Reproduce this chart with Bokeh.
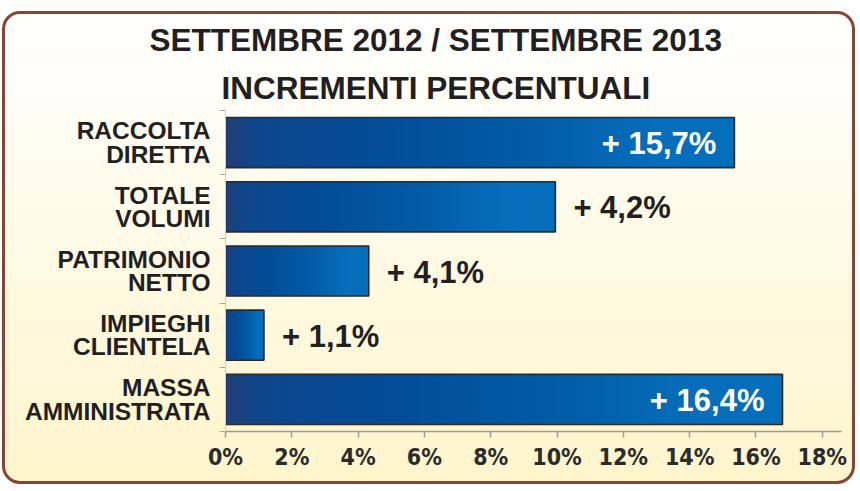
import numpy as np
from bokeh.plotting import figure
from bokeh.models import Range1d, FixedTicker, PrintfTickFormatter, Title, ColumnDataSource
from bokeh.core.properties import value
from bokeh.embed import file_html
from bokeh.resources import INLINE

# ---- data ----
categories = ["RACCOLTA\nDIRETTA", "TOTALE\nVOLUMI", "PATRIMONIO\nNETTO",
              "IMPIEGHI\nCLIENTELA", "MASSA\nAMMINISTRATA"]
bar_lengths = [15.35, 9.95, 4.32, 1.16, 16.8]
value_labels = ["+ 15,7%", "+ 4,2%", "+ 4,1%", "+ 1,1%", "+ 16,4%"]
x_ticks = [0, 2, 4, 6, 8, 10, 12, 14, 16, 18]
title_lines = ["SETTEMBRE 2012 / SETTEMBRE 2013", "INCREMENTI PERCENTUALI"]

# ---- styling ----
BOLD = "Liberation Sans"
NARROW = "'Liberation Sans Narrow', 'DejaVu Sans Condensed', 'Liberation Sans'"
DARK = "#231f20"
BAR_H = 0.78

grad_pos = [0.0, 0.06, 0.3, 0.6, 0.85, 1.0]
grad_rgb = np.array([[34, 62, 118], [14, 70, 140], [2, 76, 152],
                     [2, 92, 166], [6, 110, 188], [4, 110, 186]])

M = 240
t = np.linspace(0, 1, M)
strip = np.zeros((1, M, 4), dtype=np.uint8)
for c in range(3):
    strip[0, :, c] = np.round(np.interp(t, grad_pos, grad_rgb[:, c])).astype(np.uint8)
strip[0, :, 3] = 255
strip_img = strip.view(dtype=np.uint32).reshape((1, M))

p = figure(width=853, height=473,
           x_range=Range1d(0, 18.58), y_range=Range1d(5, 0),
           output_backend="svg", toolbar_location=None,
           min_border_left=220, min_border_right=17,
           min_border_top=95, min_border_bottom=56)
p.styles = {"margin-left": "2px", "margin-top": "11px",
            "border": "3px solid #8b4333", "border-radius": "18px",
            "background": "linear-gradient(to bottom, #ffffff 0%, #fffdf3 25%, #fff9e0 60%, #fff5cc 100%)"}
p.background_fill_alpha = 0
p.border_fill_alpha = 0
p.outline_line_color = None
p.grid.visible = False

# titles (bottom line added first so the first line is outermost)
for txt, off, lh in [(title_lines[1], -4, 1.29), (title_lines[0], -76, 1.2)]:
    p.add_layout(Title(text=txt, align="left", offset=off,
                       text_font=BOLD, text_font_style="bold", text_font_size="31.5px",
                       text_line_height=lh, text_color=DARK), "above")
p.title.visible = False

ys = [i + 0.5 for i in range(len(categories))]

# gradient-filled bars
p.image_rgba(image=[strip_img] * len(bar_lengths), x=[0] * len(bar_lengths),
             y=[y - BAR_H / 2 for y in ys], dw=bar_lengths, dh=[BAR_H] * len(bar_lengths))
p.hbar(y=ys, left=0, right=bar_lengths, height=BAR_H,
       fill_color=None, line_color="#2b2b2b", line_width=1.6)

# value labels
inside = [v > 12 for v in bar_lengths]
src = ColumnDataSource(dict(
    x=bar_lengths, y=ys, text=value_labels,
    off=[-18 if f else 18 for f in inside],
    align=["right" if f else "left" for f in inside],
    color=["#ffffff" if f else DARK for f in inside],
))
p.text(x="x", y="y", text="text", x_offset="off", y_offset=1, text_align="align",
       text_baseline="middle", text_color="color", source=src,
       text_font=value(BOLD), text_font_style="bold", text_font_size="31px")

# axes
xa = p.xaxis[0]
xa.ticker = FixedTicker(ticks=x_ticks)
xa.formatter = PrintfTickFormatter(format="%d%%")
xa.axis_line_color = "#9a9a9a"
xa.axis_line_width = 1.5
xa.major_tick_line_color = "#9a9a9a"
xa.major_tick_line_width = 1.5
xa.major_tick_out = 6
xa.major_tick_in = 0
xa.minor_tick_out = 0
xa.major_label_standoff = 6
xa.major_label_text_font = NARROW
xa.major_label_text_font_style = "bold"
xa.major_label_text_font_size = "23px"
xa.major_label_text_color = "#2b2b2b"

ya = p.yaxis[0]
ya.ticker = FixedTicker(ticks=ys, minor_ticks=list(range(len(categories) + 1)))
ya.major_label_overrides = {y: c for y, c in zip(ys, categories)}
ya.axis_line_color = "#cfcfcf"
ya.axis_line_width = 1
ya.major_tick_out = 0
ya.major_tick_in = 0
ya.minor_tick_out = 6
ya.minor_tick_in = 0
ya.minor_tick_line_color = "#aaaaaa"
ya.major_label_standoff = 9
ya.major_label_text_font = BOLD
ya.major_label_text_font_style = "bold"
ya.major_label_text_font_size = "24.5px"
ya.major_label_text_line_height = 0.86
ya.major_label_text_color = DARK

open("out.html", "w").write(file_html(p, INLINE))
